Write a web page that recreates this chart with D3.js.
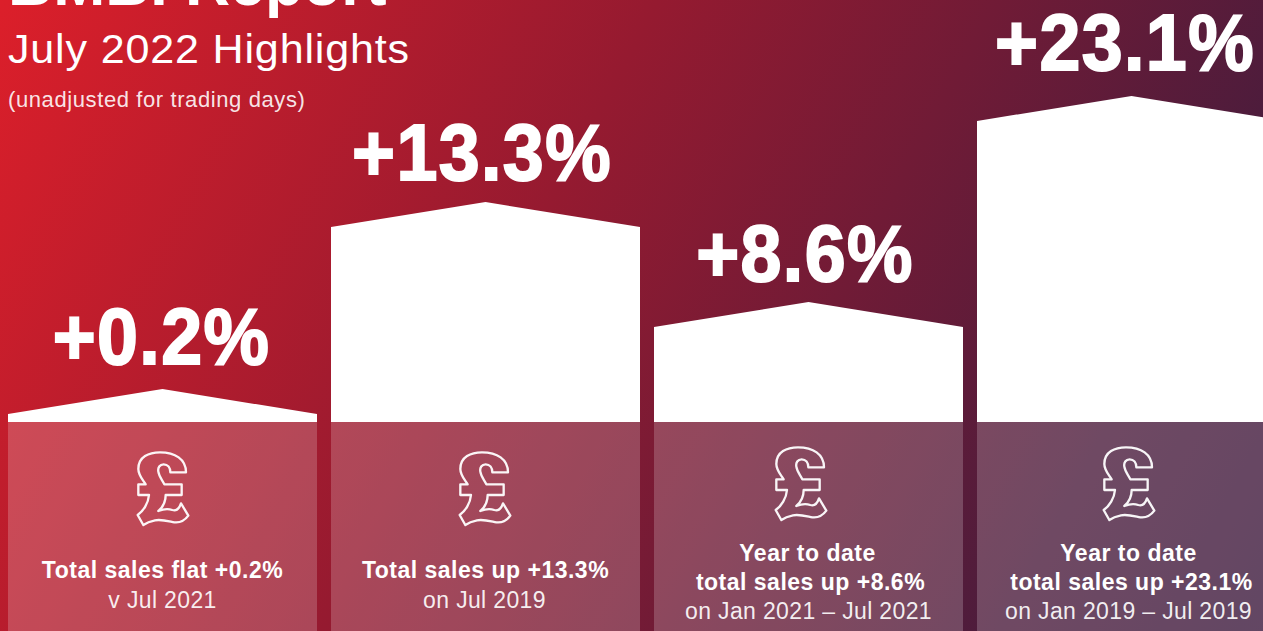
<!DOCTYPE html>
<html>
<head>
<meta charset="utf-8">
<script src="https://cdnjs.cloudflare.com/ajax/libs/d3/7.8.5/d3.min.js"></script>
<style>
  html, body { margin:0; padding:0; background:#fff; overflow:hidden; }
  svg { display:block; }
  text { font-family:"Liberation Sans", Arial, sans-serif; fill:#fff; }
</style>
</head>
<body>
<div id="chart"></div>
<script>
// values
var categories = ['m1','ytd1','m2','ytd2'];
var values = [0.2, 13.3, 8.6, 23.1];
var valueLabels = ['+0.2%','+13.3%','+8.6%','+23.1%'];
var boldLines = [
  ['Total sales flat +0.2%'],
  ['Total sales up +13.3%'],
  ['Year to date','total sales up +8.6%'],
  ['Year to date','total sales up +23.1%']
];
var plainLines = ['v Jul 2021','on Jul 2019','on Jan 2021 – Jul 2021','on Jan 2019 – Jul 2019'];
var title = 'BMBI Report';
var subtitle = 'July 2022 Highlights';
var note = '(unadjusted for trading days)';

var W = 1263, H = 631;
var baseY = 422, eave = 25;

//pound sign outline, 225x264 box
var poundIcon = 'M40 72 C40 35 72 22 105 22 C150 22 183 42 183 82 L136 82 C136 68 128 58 116 58 C104 58 98 68 100 80 C102 95 112 105 118 118 L170 118 L170 150 L122 150 C122 170 112 188 100 198 C115 192 128 190 142 195 C155 199 163 190 168 175 L190 212 C178 228 165 234 148 232 C128 228 108 222 90 226 C75 229 62 235 55 240 L38 210 C55 198 70 175 72 150 L40 150 L40 118 L62 118 C50 100 40 90 40 72 Z';

var svg = d3.select('#chart').append('svg')
    .attr('width', W)
    .attr('height', H);

//background gradient
var defs = svg.append('defs');
var grad = defs.append('linearGradient')
    .attr('id','bg')
    .attr('gradientUnits','userSpaceOnUse')
    .attr('x1',0).attr('y1',0)
    .attr('x2',1350).attr('y2',720);
grad.append('stop').attr('offset','0%').attr('stop-color','#dc1f2a');
grad.append('stop').attr('offset','38%').attr('stop-color','#951a30');
grad.append('stop').attr('offset','77%').attr('stop-color','#4c1c3c');
grad.append('stop').attr('offset','100%').attr('stop-color','#33173e');

svg.append('rect').attr('width',W).attr('height',H).attr('fill','url(#bg)');

//scales: the source infographic is not drawn to a straight scale, so the
//value axis is piecewise
var x = d3.scaleBand().domain(categories).range([8,1286]).paddingInner(14/323).paddingOuter(0);
var y = d3.scaleLinear().domain([0.2,8.6,13.3,23.1]).range([389,302,202,96]);

var line = d3.line();

function barPath(v,i){
  var x0 = x(categories[i]), x1 = x0 + x.bandwidth(), top = y(v);
  return line([[x0,baseY],[x0,top+eave],[(x0+x1)/2,top],[x1,top+eave],[x1,baseY]]) + 'Z';
}
function mid(i){ return x(categories[i]) + x.bandwidth()/2; }

var bars = svg.selectAll('.bar')
    .data(values)
    .enter().append('g')
    .attr('class','bar');

bars.append('path')
    .attr('d',barPath)
    .attr('fill','#fff');

//translucent panel under each house
bars.append('rect')
    .attr('x',function(d,i){return x(categories[i]);})
    .attr('y',baseY)
    .attr('width',x.bandwidth())
    .attr('height',H-baseY)
    .attr('fill','#fff')
    .attr('fill-opacity',0.2);

//big percentage, squeezed a bit so the digits stay apart like the original
bars.append('text')
    .attr('transform',function(d,i){
      return 'translate(' + (mid(i) + [-1,-3.5,-3.5,-6.5][i]) + ',' + (y(d) - [25,22,21,26][i]) + ') scale(0.92,1)';
    })
    .attr('text-anchor','middle')
    .style('font-size','80px')
    .style('font-weight','700')
    .style('letter-spacing','1.5px')
    .style('stroke','#fff')
    .style('stroke-width','2px')
    .text(function(d,i){return valueLabels[i];});

//pound icon
bars.append('path')
    .attr('d',poundIcon)
    .attr('transform',function(d,i){
      var ox = mid(i) + [0,-1,-8,-3][i] - 37.5,
          oy = boldLines[i].length > 1 ? 440 : 445;
      return 'translate(' + ox + ',' + oy + ') scale(' + 1/3 + ')';
    })
    .attr('fill','none')
    .attr('stroke','#fff')
    .attr('stroke-opacity',0.95)
    .attr('stroke-width',7)
    .attr('stroke-linejoin','round');

//captions
var boldShift = [[0],[0],[-1,2],[-3,0]];
bars.each(function(d,i){
  var g = d3.select(this),
      cx = mid(i),
      n = boldLines[i].length,
      y0 = n > 1 ? 561 : 578;
  boldLines[i].forEach(function(t,j){
    g.append('text')
        .attr('x',cx + boldShift[i][j])
        .attr('y',y0 + j*29)
        .attr('text-anchor','middle')
        .style('font-size','23px')
        .style('letter-spacing','0.5px')
        .style('font-weight','700')
        .text(t);
  });
  g.append('text')
      .attr('x',cx - [0,1,0,3][i])
      .attr('y',y0 + n*29 + (n > 1 ? 0 : 1))
      .attr('text-anchor','middle')
      .style('font-size','23px')
      .style('letter-spacing','0.35px')
      .style('fill-opacity',0.92)
      .text(plainLines[i]);
});

//headings
svg.append('text').attr('x',8).attr('y',5)
    .style('font-size','62.5px').style('font-weight','700').text(title);
svg.append('text').attr('transform','translate(8,63) scale(1.05,1)')
    .style('font-size','41px').style('letter-spacing','0.8px').text(subtitle);
svg.append('text').attr('x',8).attr('y',107)
    .style('font-size','22px').style('letter-spacing','0.6px').style('fill-opacity',0.9).text(note);
</script>
</body>
</html>
